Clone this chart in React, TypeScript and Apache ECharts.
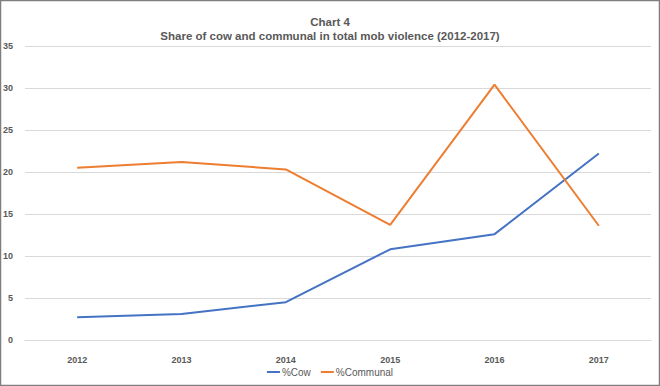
import React, { useEffect, useRef } from "react";
import * as echarts from "echarts";

const years = ["2012", "2013", "2014", "2015", "2016", "2017"];
const cowShare = [2.7, 3.1, 4.5, 10.8, 12.6, 22.2];
const communalShare = [20.5, 21.2, 20.3, 13.7, 30.4, 13.6];
const seriesNames = ["%Cow", "%Communal"];
const titleMain = "Chart 4";
const titleSub = "Share of cow and communal in total mob violence (2012-2017)";

export default function App() {
  const ref = useRef<HTMLDivElement>(null);
  useEffect(() => {
    document.body.style.margin = "0";
    const chart = echarts.init(ref.current!, null, { renderer: "svg" });
    const font = "Liberation Sans";
    chart.setOption({
      animation: false,
      backgroundColor: "#ffffff",
      graphic: [
        {
          type: "rect",
          shape: { x: 0.5, y: 0.5, width: 659, height: 385 },
          style: { fill: "none", stroke: "#7f7f7f", lineWidth: 1.5 },
          silent: true,
        },
      ],
      title: [
        {
          text: titleMain,
          left: "center",
          top: 11,
          textStyle: { fontFamily: font, fontSize: 11.5, fontWeight: "bold", color: "#595959" },
        },
        {
          text: titleSub,
          left: "center",
          top: 25,
          textStyle: { fontFamily: font, fontSize: 11.5, fontWeight: "bold", color: "#595959" },
        },
      ],
      legend: {
        bottom: 4,
        left: "center",
        data: seriesNames,
        icon: "rect",
        itemWidth: 13,
        itemHeight: 2,
        itemGap: 10,
        textStyle: { fontFamily: font, fontSize: 10, color: "#595959", padding: [0, 0, 0, -3] },
      },
      grid: { left: 25, right: 9, top: 46, bottom: 46, containLabel: false },
      xAxis: {
        type: "category",
        data: years,
        boundaryGap: true,
        axisLine: { show: true, lineStyle: { color: "#d9d9d9", width: 1 } },
        axisTick: { show: false },
        axisLabel: { fontFamily: font, fontSize: 9, fontWeight: "bold", color: "#595959", margin: 15 },
      },
      yAxis: {
        type: "value",
        min: 0,
        max: 35,
        interval: 5,
        axisLine: { show: false },
        axisTick: { show: false },
        axisLabel: { fontFamily: font, fontSize: 9, fontWeight: "bold", color: "#595959", margin: 12 },
        splitLine: { lineStyle: { color: "#d9d9d9", width: 1 } },
      },
      series: [
        {
          name: seriesNames[0],
          type: "line",
          data: cowShare,
          symbol: "none",
          itemStyle: { color: "#4472c4" },
          lineStyle: { color: "#4472c4", width: 2 },
        },
        {
          name: seriesNames[1],
          type: "line",
          data: communalShare,
          symbol: "none",
          itemStyle: { color: "#ed7d31" },
          lineStyle: { color: "#ed7d31", width: 2 },
        },
      ],
    });
    return () => chart.dispose();
  }, []);
  return <div ref={ref} style={{ width: 660, height: 386, position: "absolute", left: 0, top: 0 }} />;
}
